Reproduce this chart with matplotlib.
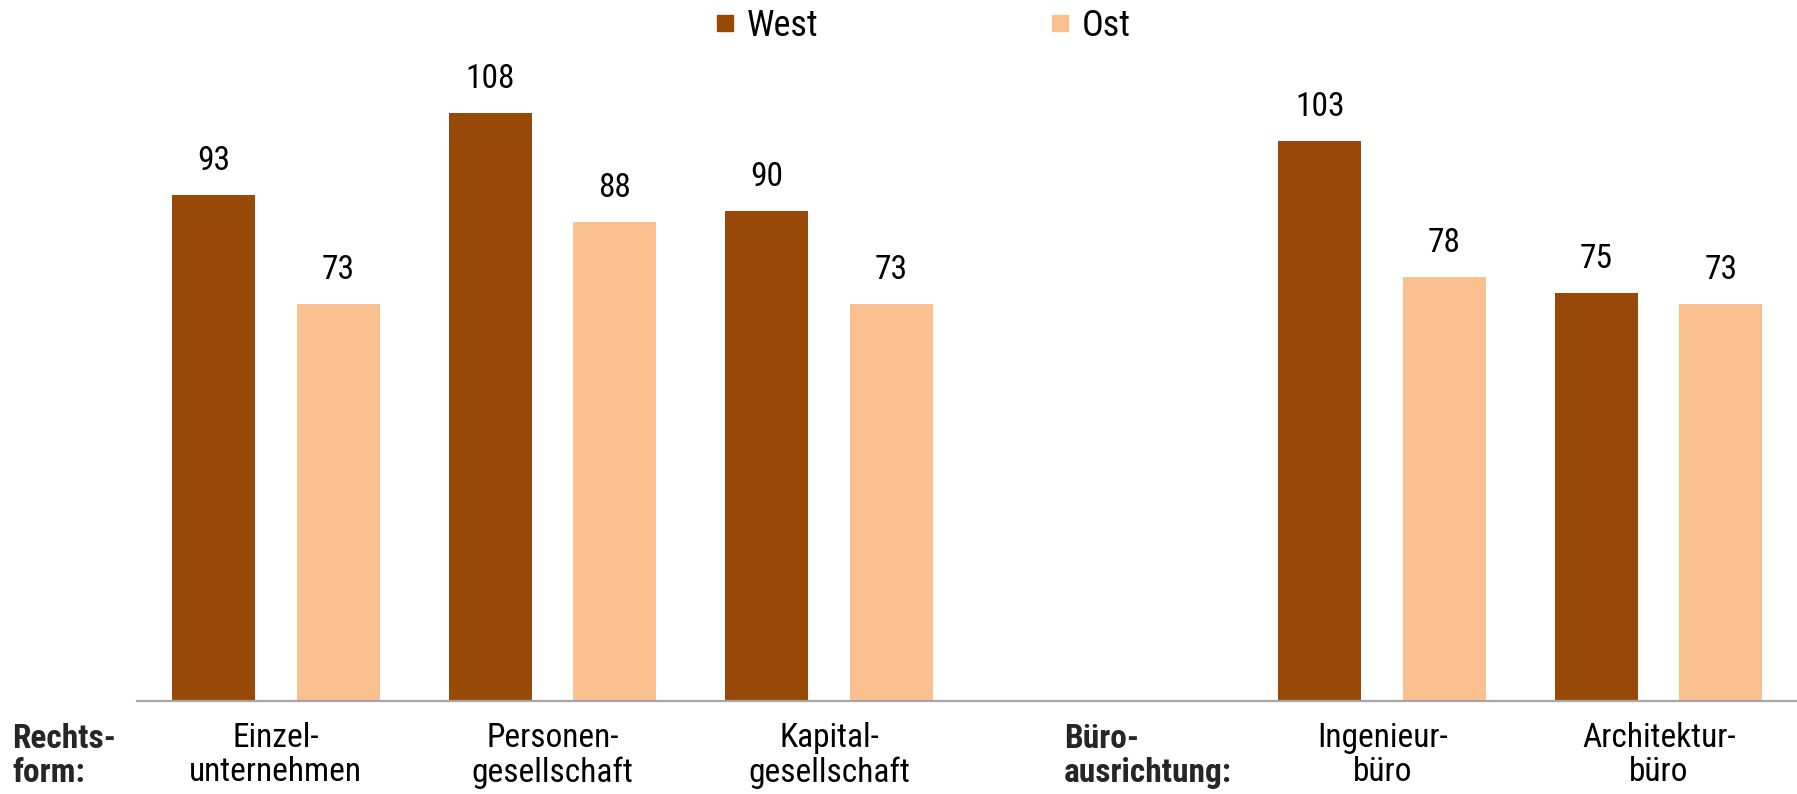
import matplotlib.pyplot as plt
from matplotlib.lines import Line2D
from matplotlib import font_manager
import numpy as np

# prefer a condensed face like the original, else Liberation Sans
installed = {f.name for f in font_manager.fontManager.ttflist}
fams = [f for f in ['Liberation Sans Narrow', 'Roboto Condensed', 'Open Sans Condensed',
                    'Liberation Sans', 'DejaVu Sans'] if f in installed]
plt.rcParams['font.family'] = fams

categories = ['Einzel-\nunternehmen', 'Personen-\ngesellschaft', 'Kapital-\ngesellschaft',
              '', 'Ingenieur-\nbüro', 'Architektur-\nbüro']
west = [93, 108, 90, None, 103, 75]
ost = [73, 88, 73, None, 78, 73]
series_names = ['West', 'Ost']
group_labels = ['Rechts-\nform:', 'Büro-\nausrichtung:']

WEST_COLOR = '#984807'
OST_COLOR = '#FAC090'

W, H = 1797, 794
fig = plt.figure(figsize=(W / 100, H / 100), dpi=100)
ax = fig.add_axes([137.5 / W, 93 / H, 1 - 137.5 / W, 653 / H])

x = np.arange(len(categories))
bw = 0.3
off = 0.225
for i in range(len(categories)):
    if west[i] is None:
        continue
    for val, dx, col in [(west[i], -off, WEST_COLOR), (ost[i], off, OST_COLOR)]:
        ax.bar(x[i] + dx, val, width=bw, color=col)
        ax.annotate(str(val), (x[i] + dx, val), xytext=(0, 18), textcoords='offset points',
                    ha='center', va='baseline', fontsize=24, color='black')

ax.set_xlim(-0.5, len(categories) - 0.5)
ax.set_ylim(0, 120)
ax.set_yticks([])
ax.set_xticks(x)
ax.set_xticklabels(categories, fontsize=24, linespacing=1.1)
ax.tick_params(axis='x', length=0, pad=15)
for s in ['top', 'right', 'left']:
    ax.spines[s].set_visible(False)
ax.spines['bottom'].set_color('#A6A6A6')
ax.spines['bottom'].set_linewidth(1.6)

# group headings under the axis
ax.text(-0.953, -0.033, group_labels[0], transform=ax.get_xaxis_transform(),
        ha='left', va='top', fontsize=24, fontweight='bold', color='#262626', linespacing=1.1)
ax.text(2.85, -0.033, group_labels[1], transform=ax.get_xaxis_transform(),
        ha='left', va='top', fontsize=24, fontweight='bold', color='#262626', linespacing=1.1)

handles = [Line2D([], [], marker='s', ls='', color=WEST_COLOR, markersize=12),
           Line2D([], [], marker='s', ls='', color=OST_COLOR, markersize=12)]
fig.legend(handles, series_names, loc='center left', bbox_to_anchor=(716 / W, 1 - 26 / H),
           ncol=2, frameon=False, fontsize=26, handlelength=0.5, handletextpad=0.35,
           columnspacing=6.45, borderpad=0, borderaxespad=0)

fig.savefig('out.png', dpi=100)
